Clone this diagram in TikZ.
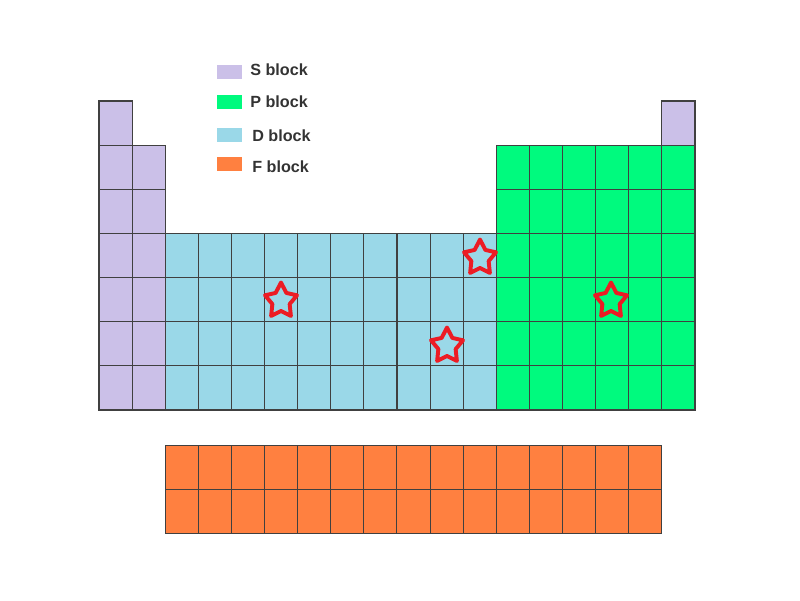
\documentclass[tikz,border=0pt]{standalone}
\usepackage{fontspec}
\setmainfont{Liberation Sans}
\usepackage{tikz}
\usetikzlibrary{shapes.geometric}
\definecolor{sblock}{RGB}{203, 192, 232}
\definecolor{pblock}{RGB}{0, 250, 126}
\definecolor{dblock}{RGB}{154, 216, 232}
\definecolor{fblock}{RGB}{255, 128, 64}
\definecolor{markred}{RGB}{236, 28, 36}

\begin{document}
\begin{tikzpicture}[
          x=0.025cm, y=-0.025cm,
          cell/.style={rectangle, draw=black!75, line width=0.75pt, minimum width=0.8278cm, minimum height=1.1035cm, inner sep=0pt},
          keybox/.style={rectangle, minimum width=0.625cm, minimum height=0.35cm, inner sep=0pt},
          keylabel/.style={anchor=west, inner sep=0pt, color=black!80, font=\fontsize{11.5}{13}\selectfont\bfseries},
          marker/.style={star, star points=5, star point ratio=1.85, minimum size=0.84cm, inner sep=0pt, draw=markred, line width=2.8pt, line join=round, yscale=1.1, transform shape}
        ]
          \useasboundingbox (0, 0) rectangle (800, 600);

          % Legend
          \node[keybox, fill=sblock] (key-s) at (229.5, 72) {};
          \node[keylabel] (lab-s) at (250, 70) {S block};
          \node[keybox, fill=pblock] (key-p) at (229.5, 102) {};
          \node[keylabel] (lab-p) at (250, 102) {P block};
          \node[keybox, fill=dblock] (key-d) at (229.5, 134.5) {};
          \node[keylabel] (lab-d) at (252, 136) {D block};
          \node[keybox, fill=fblock] (key-f) at (229.5, 164) {};
          \node[keylabel] (lab-f) at (252, 167) {F block};

          % S block
          \foreach \r in {1,...,7}
            \node[cell, fill=sblock] (s-1-\r) at ({99+0.5*33.11}, {101+(\r-0.5)*44.14}) {};
          \foreach \r in {2,...,7}
            \node[cell, fill=sblock] (s-2-\r) at ({99+1.5*33.11}, {101+(\r-0.5)*44.14}) {};
          \node[cell, fill=sblock] (s-18-1) at ({99+17.5*33.11}, {101+0.5*44.14}) {};

          % P block
          \foreach \c in {13,...,18}
            \foreach \r in {2,...,7}
              \node[cell, fill=pblock] (p-\c-\r) at ({99+(\c-0.5)*33.11}, {101+(\r-0.5)*44.14}) {};

          % D block
          \foreach \c in {3,...,12}
            \foreach \r in {4,...,7}
              \node[cell, fill=dblock] (d-\c-\r) at ({99+(\c-0.5)*33.11}, {101+(\r-0.5)*44.14}) {};

          % F block
          \foreach \c in {1,...,15}
            \foreach \r in {1,2}
              \node[cell, fill=fblock] (f-\c-\r) at ({165.2+(\c-0.5)*33.11}, {445+(\r-0.5)*44.3}) {};

          % Stars
          \node[marker] (star1) at (281, 301) {};
          \node[marker] (star2) at (480, 258) {};
          \node[marker] (star3) at (447, 346) {};
          \node[marker] (star4) at (611, 301) {};
        \end{tikzpicture}
\end{document}
